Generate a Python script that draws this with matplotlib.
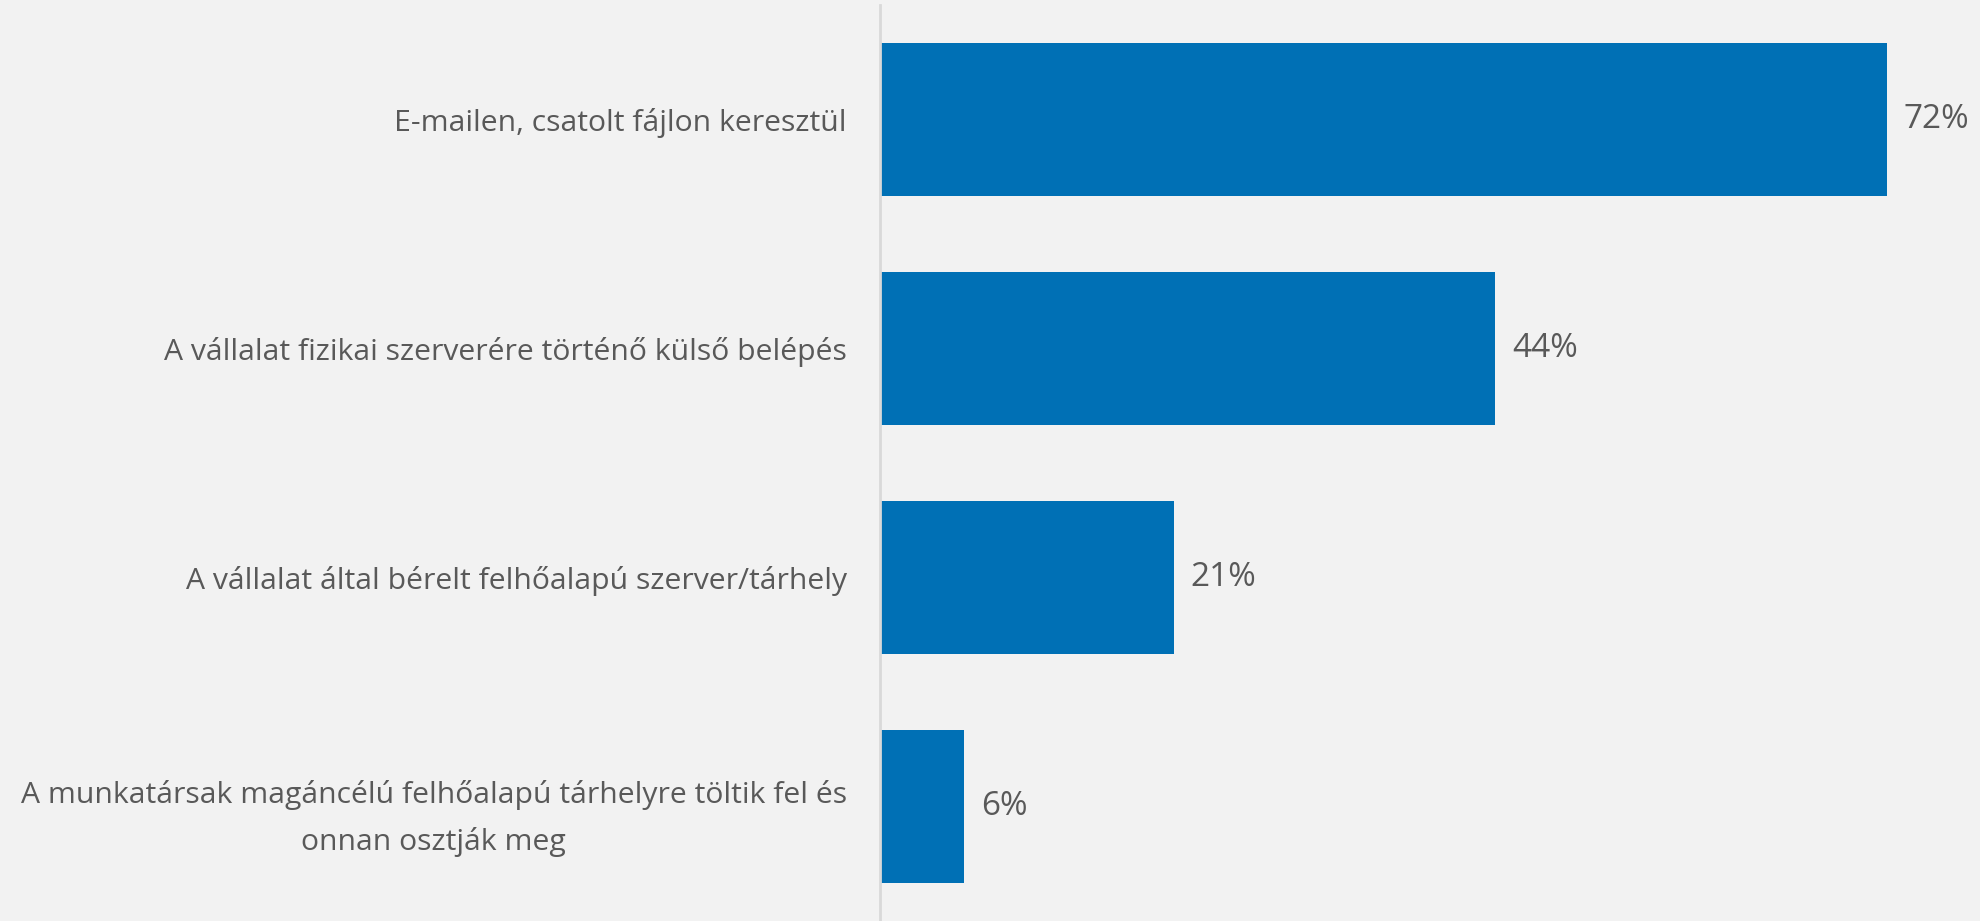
import matplotlib.pyplot as plt

# Data
categories = [
    "E-mailen, csatolt fájlon keresztül",
    "A vállalat fizikai szerverére történő külső belépés",
    "A vállalat által bérelt felhőalapú szerver/tárhely",
    "A munkatársak magáncélú felhőalapú tárhelyre töltik fel és\nonnan osztják meg",
]
values = [72, 44, 21, 6]

bg = "#F2F2F2"
bar_color = "#0070B5"
text_color = "#595959"

plt.rcParams['font.family'] = ['Open Sans', 'DejaVu Sans']

fig = plt.figure(figsize=(19.8, 9.21), dpi=100, facecolor=bg)
ax = fig.add_axes([880 / 1980, 0, 1 - 880 / 1980, 916 / 921])
ax.set_facecolor(bg)

y = list(range(len(categories)))
ax.barh(y, values, height=0.665, color=bar_color)
ax.set_ylim(len(categories) - 0.5, -0.5)
ax.set_xlim(0, 1100 / 13.98)

for yi, v in zip(y, values):
    ax.text(v + 1.2, yi, f"{v}%", va='center', ha='left',
            fontsize=24, color=text_color)

ax.set_yticks(y)
ax.set_yticklabels(categories, fontsize=21.7, color=text_color,
                   ha='right', multialignment='center', linespacing=1.72)
ax.tick_params(axis='y', length=0, pad=24)
ax.set_xticks([])

for s in ['top', 'right', 'bottom']:
    ax.spines[s].set_visible(False)
ax.spines['left'].set_color('#D9D9D9')
ax.spines['left'].set_linewidth(2)

fig.savefig("out.png", dpi=100, facecolor=bg)
